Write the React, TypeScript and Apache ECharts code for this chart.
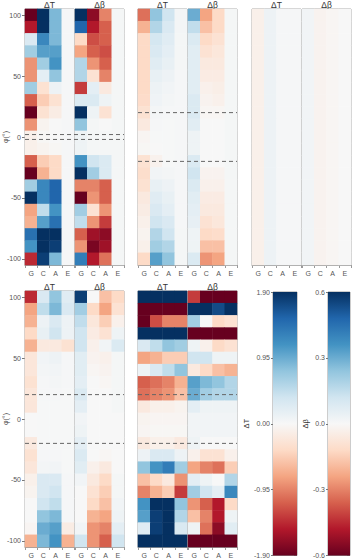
import React, { useEffect, useRef } from 'react';
import * as echarts from 'echarts';

// Sequence columns and backbone angle bins (bottom → top on the y axis)
const COLS = ['G', 'C', 'A', 'E'];
const PHI = ['-100', '-90', '-80', '-70', '-60', '-50', '-40', '-30', '-20', '-10', '0',
  '10', '20', '30', '40', '50', '60', '70', '80', '90', '100'];

// Each table: rows φ = 100 … -100 (top to bottom), columns G, C, A, E
const aDT = [
  [-1.9, 1.9, 0.86, 0.02], [-1.52, 1.9, 0.86, 0.02], [0.29, 1.24, 0.86, 0.02], [0.67, 1.05, 1.05, 0.02],
  [-0.86, 0.67, 1.14, 0.02], [-0.86, 0.19, 0.76, 0.02], [0.67, -0.29, 0.1, 0.02], [-1.14, -0.48, -0.29, 0.02],
  [-1.9, -0.29, -0.15, 0.02], [-0.86, -0.06, 0.0, 0.02], [-0.1, -0.02, 0.0, 0.02], [-0.1, -0.06, -0.02, 0.02],
  [-1.14, -0.48, -0.38, 0.02], [-1.9, -0.67, -0.38, 0.02], [0.67, 1.24, 1.52, 0.02], [1.9, 1.24, 1.52, 0.02],
  [-0.76, 0.48, 1.14, 0.02], [-0.67, 1.05, 1.43, 0.02], [1.43, 1.9, 1.9, 0.02], [1.14, 1.9, 1.8, 0.02],
  [-1.43, 1.8, 0.86, 0.02],
];
const aDB = [
  [0.6, -0.54, -0.3, 0.01], [0.48, -0.48, -0.36, 0.01], [-0.12, -0.39, -0.36, 0.01], [-0.24, -0.36, -0.39, 0.01],
  [0.18, -0.27, -0.36, 0.01], [0.18, -0.09, -0.3, 0.01], [-0.42, 0.06, -0.06, 0.01], [0.09, 0.09, 0.03, 0.01],
  [0.6, 0.03, -0.09, 0.01], [0.24, 0.01, 0.0, 0.01], [0.03, 0.01, 0.01, 0.01], [0.03, 0.01, 0.01, 0.01],
  [0.36, 0.12, 0.09, 0.01], [0.6, 0.21, 0.09, 0.01], [-0.3, -0.3, -0.36, 0.01], [-0.6, -0.27, -0.36, 0.01],
  [0.21, -0.09, -0.27, 0.01], [0.15, -0.27, -0.42, 0.01], [-0.36, -0.51, -0.54, 0.01], [-0.27, -0.57, -0.51, 0.01],
  [0.42, -0.48, -0.33, 0.01],
];
const bDT = [
  [-1.05, 0.76, 0.38, 0.04], [-0.67, 0.57, 0.29, 0.04], [-0.38, 0.34, 0.23, 0.03], [-0.38, 0.29, 0.19, 0.03],
  [-0.38, 0.23, 0.15, 0.03], [-0.38, 0.15, 0.1, 0.02], [-0.38, 0.1, 0.06, 0.02], [-0.36, 0.08, 0.04, 0.02],
  [-0.29, 0.04, 0.02, 0.02], [-0.19, 0.02, 0.01, 0.02], [-0.04, 0.01, 0.01, 0.02], [-0.02, 0.0, 0.01, 0.02],
  [-0.29, -0.08, 0.01, 0.02], [-0.34, 0.06, 0.04, 0.02], [-0.29, 0.15, 0.1, 0.02], [-0.19, 0.23, 0.15, 0.02],
  [-0.15, 0.29, 0.19, 0.02], [-0.1, 0.38, 0.29, 0.02], [-0.06, 0.57, 0.38, 0.03], [-0.1, 0.67, 0.57, 0.03],
  [-0.38, 1.05, 0.76, 0.03],
];
const bDB = [
  [0.3, -0.24, -0.12, 0.01], [0.15, -0.18, -0.12, 0.01], [0.09, -0.12, -0.09, 0.01], [0.07, -0.09, -0.07, 0.01],
  [0.07, -0.06, -0.06, 0.01], [0.07, -0.05, -0.05, 0.01], [0.07, -0.03, -0.04, 0.01], [0.09, -0.02, -0.03, 0.01],
  [0.09, -0.01, -0.01, 0.01], [0.07, 0.0, 0.0, 0.01], [0.03, 0.0, 0.0, 0.01], [0.03, 0.0, 0.0, 0.01],
  [0.09, 0.0, 0.0, 0.01], [0.12, -0.02, -0.02, 0.01], [0.09, -0.03, -0.03, 0.01], [0.07, -0.05, -0.05, 0.01],
  [0.06, -0.06, -0.06, 0.01], [0.05, -0.09, -0.07, 0.01], [0.03, -0.12, -0.11, 0.01], [0.03, -0.18, -0.18, 0.01],
  [0.09, -0.27, -0.24, 0.01],
];
const cDT = [
  [-0.1, 0.1, 0.02, 0.02], [-0.1, 0.1, 0.02, 0.02], [-0.1, 0.1, 0.02, 0.02], [-0.1, 0.1, 0.02, 0.02],
  [-0.1, 0.1, 0.02, 0.02], [-0.1, 0.1, 0.02, 0.02], [-0.1, 0.1, 0.02, 0.02], [-0.1, 0.1, 0.02, 0.02],
  [-0.1, 0.1, 0.02, 0.02], [-0.1, 0.1, 0.02, 0.02], [-0.1, 0.1, 0.02, 0.02], [-0.1, 0.1, 0.02, 0.02],
  [-0.1, 0.1, 0.02, 0.02], [-0.1, 0.1, 0.02, 0.02], [-0.1, 0.1, 0.02, 0.02], [-0.1, 0.1, 0.02, 0.02],
  [-0.1, 0.1, 0.02, 0.02], [-0.1, 0.1, 0.02, 0.02], [-0.1, 0.1, 0.02, 0.02], [-0.1, 0.1, 0.02, 0.02],
  [-0.1, 0.1, 0.02, 0.02],
];
const cDB = [
  [0.02, -0.02, -0.01, 0.0], [0.02, -0.02, -0.01, 0.0], [0.02, -0.02, -0.01, 0.0], [0.02, -0.02, -0.01, 0.0],
  [0.02, -0.02, -0.01, 0.0], [0.02, -0.02, -0.01, 0.0], [0.02, -0.02, -0.01, 0.0], [0.02, -0.02, -0.01, 0.0],
  [0.02, -0.02, -0.01, 0.0], [0.02, -0.02, -0.01, 0.0], [0.02, -0.02, -0.01, 0.0], [0.02, -0.02, -0.01, 0.0],
  [0.02, -0.02, -0.01, 0.0], [0.02, -0.02, -0.01, 0.0], [0.02, -0.02, -0.01, 0.0], [0.02, -0.02, -0.01, 0.0],
  [0.02, -0.02, -0.01, 0.0], [0.02, -0.02, -0.01, 0.0], [0.02, -0.02, -0.01, 0.0], [0.02, -0.02, -0.01, 0.0],
  [0.02, -0.02, -0.01, 0.0],
];
const b1DT = [
  [-1.43, 0.29, 0.76, 0.23], [-0.76, 0.48, 0.86, 0.29], [-0.67, 0.1, 0.29, 0.1], [-0.38, 0.15, 0.38, 0.1],
  [-0.67, -0.19, -0.19, -0.29], [-0.23, 0.06, 0.1, 0.02], [-0.23, 0.04, 0.06, 0.02], [-0.29, 0.02, 0.04, 0.02],
  [-0.23, 0.02, 0.02, 0.01], [-0.23, 0.01, 0.01, 0.01], [0.0, 0.01, 0.01, 0.01], [0.0, 0.01, 0.01, 0.01],
  [-0.19, 0.01, 0.01, 0.01], [-0.29, 0.02, 0.02, 0.01], [-0.23, 0.04, 0.06, 0.01], [-0.1, 0.29, 0.29, 0.02],
  [-0.06, 0.29, 0.38, 0.02], [0.0, 0.38, 0.48, 0.02], [0.0, 0.76, 0.86, 0.02], [-0.04, 0.95, 1.05, -0.15],
  [-0.67, 0.86, 1.14, -0.67],
];
const b1DB = [
  [0.57, 0.0, -0.18, -0.12], [0.21, -0.12, -0.24, -0.09], [0.15, -0.07, -0.15, -0.03], [0.12, -0.05, -0.09, 0.03],
  [0.12, -0.03, 0.02, 0.09], [0.07, -0.02, -0.03, 0.01], [0.07, -0.01, -0.02, 0.01], [0.06, 0.0, -0.01, 0.01],
  [0.09, 0.0, 0.0, 0.01], [0.06, 0.0, 0.0, 0.01], [0.02, 0.0, 0.0, 0.0], [0.03, 0.0, 0.0, 0.0],
  [0.06, 0.0, 0.0, 0.0], [0.09, 0.0, -0.01, 0.0], [0.07, -0.03, -0.06, 0.0], [0.02, -0.06, -0.12, 0.01],
  [0.0, -0.09, -0.15, 0.01], [0.0, -0.12, -0.18, 0.02], [0.0, -0.21, -0.24, 0.03], [0.02, -0.27, -0.3, 0.06],
  [0.12, -0.27, -0.36, 0.12],
];
const b2DT = [
  [1.9, 1.9, 1.9, 1.9], [-1.9, -1.9, -1.9, -1.9], [-1.9, -1.24, -0.95, -0.95], [1.9, 1.9, 1.9, 1.9],
  [0.29, 0.48, 0.76, 0.67], [-0.76, -0.67, -0.48, -0.48], [0.1, 0.29, 0.48, 0.76], [-1.14, -1.05, -0.95, -0.67],
  [-1.05, -0.95, -0.86, -0.57], [-0.19, -0.1, -0.1, -0.06], [-0.06, -0.04, -0.04, -0.04], [-0.04, -0.02, -0.02, -0.02],
  [-0.19, -0.1, -0.1, -0.19], [0.1, 0.29, 0.29, 0.1], [0.76, 1.14, 1.33, 0.67], [-0.57, -0.38, -0.19, -0.86],
  [-0.95, -0.67, -0.48, -1.33], [1.14, 1.9, 1.9, 0.76], [1.05, 1.8, 1.9, 0.57], [0.23, 1.8, 1.9, 0.29],
  [1.9, 1.9, 1.9, 1.9],
];
const b2DB = [
  [-0.42, -0.6, -0.6, -0.6], [0.6, 0.6, 0.54, 0.6], [0.21, 0.0, -0.12, -0.09], [-0.6, -0.6, -0.6, -0.6],
  [0.03, -0.03, -0.12, -0.09], [0.12, 0.12, 0.03, 0.03], [-0.06, -0.12, -0.18, -0.21], [0.33, 0.27, 0.24, 0.18],
  [0.3, 0.21, 0.18, 0.18], [0.06, 0.03, 0.03, 0.03], [0.02, 0.02, 0.02, 0.02], [0.02, 0.02, 0.02, 0.02],
  [0.03, 0.0, 0.0, 0.0], [-0.03, -0.09, -0.09, -0.03], [-0.24, -0.3, -0.33, -0.15], [0.06, 0.03, 0.0, 0.18],
  [0.21, 0.12, 0.06, 0.39], [-0.27, -0.36, -0.48, -0.12], [-0.18, -0.3, -0.48, 0.03], [0.03, -0.33, -0.54, 0.07],
  [-0.6, -0.6, -0.6, -0.6],
];

// Colour limits and dashed reference angles
const DT_LIM = 1.9;
const DB_LIM = 0.6;
const DASH_A = [2, -2];
const DASH_B = [20, -20];

// Diverging red → white → blue palette (low → high)
const RDBU = ['#67001f', '#b2182b', '#d6604d', '#f4a582', '#fddbc7', '#f7f7f7',
  '#d1e5f0', '#92c5de', '#4393c3', '#2166ac', '#053061'];

const FONT = 'Liberation Sans, Arial, sans-serif';
const AXIS_GREY = '#9a9a9a';

function toCells(rows: number[][]) {
  const out: number[][] = [];
  rows.forEach((r, i) => r.forEach((v, j) => out.push([j, PHI.length - 1 - i, v])));
  return out;
}

function buildOption() {
  const grid: any[] = [];
  const xAxis: any[] = [];
  const yAxis: any[] = [];
  const series: any[] = [];
  const graphic: any[] = [];
  const dtIdx: number[] = [];
  const dbIdx: number[] = [];

  const PW = 49;
  const PH = 256;

  const heatPanel = (x0: number, top: number, dT: number[][], dB: number[][], dashes: number[] | null,
    tag: string, tagColor: string, showY: boolean) => {
    [dT, dB].forEach((rows, k) => {
      const gi = grid.length;
      const xi = xAxis.length;
      const yi = yAxis.length;
      const left = x0 + k * 50;
      grid.push({ left, top, width: PW, height: PH, show: true, borderColor: AXIS_GREY, borderWidth: 1 });
      xAxis.push({
        type: 'category', gridIndex: gi, data: COLS,
        axisLine: { show: true, lineStyle: { color: AXIS_GREY } },
        axisTick: { show: true, length: 3, interval: 0, lineStyle: { color: AXIS_GREY } },
        axisLabel: { fontSize: 7, color: '#555', margin: 5, fontFamily: FONT, interval: 0 },
        splitLine: { show: false },
      });
      const lab = showY && k === 0;
      yAxis.push({
        type: 'category', gridIndex: gi, data: PHI,
        axisLine: { show: false },
        axisTick: { show: lab, length: 3, interval: 4, alignWithLabel: true, lineStyle: { color: '#777' } },
        axisLabel: { show: lab, interval: 4, fontSize: 7, color: '#555', margin: 4, fontFamily: FONT },
        splitLine: { show: false },
      });
      (k === 0 ? dtIdx : dbIdx).push(series.length);
      series.push({
        type: 'heatmap', xAxisIndex: xi, yAxisIndex: yi, data: toCells(rows),
        itemStyle: { borderWidth: 0 }, emphasis: { disabled: true }, silent: true,
      });
      graphic.push({
        type: 'text', x: left + PW / 2, y: top - 4.5,
        style: { text: k === 0 ? 'ΔT' : 'Δβ', fontSize: 8.5, fontFamily: FONT, fill: '#333', align: 'center', verticalAlign: 'middle' },
      });
    });
    if (dashes) {
      const gi = grid.length;
      const xi = xAxis.length;
      const yi = yAxis.length;
      grid.push({ left: x0, top, width: 99, height: PH, show: false });
      xAxis.push({ type: 'value', gridIndex: gi, min: 0, max: 1, show: false });
      yAxis.push({ type: 'value', gridIndex: gi, min: -105, max: 105, show: false });
      dashes.forEach((d) => {
        series.push({
          type: 'line', xAxisIndex: xi, yAxisIndex: yi, data: [[0, d], [1, d]],
          symbol: 'none', silent: true, z: 5,
          lineStyle: { color: '#666', width: 1, type: [4, 3] },
        });
      });
    }
    graphic.push({
      type: 'text', x: x0 + 97, y: top + 8,
      style: { text: tag, fontSize: 9, fontFamily: FONT, fill: tagColor, align: 'right', verticalAlign: 'middle' },
    });
    if (showY) {
      graphic.push({
        type: 'text', x: 5, y: top + PH / 2, rotation: Math.PI / 2,
        style: { text: 'φ(°)', fontSize: 7, fontFamily: FONT, fill: '#444', align: 'center', verticalAlign: 'middle' },
      });
    }
  };

  heatPanel(25, 9, aDT, aDB, DASH_A, 'a.', '#222', true);
  heatPanel(138, 9, bDT, bDB, DASH_B, 'b.', '#222', false);
  heatPanel(252, 9, cDT, cDB, null, 'c.', '#222', false);
  heatPanel(25, 291, b1DT, b1DB, DASH_B, 'b.1', '#222', true);
  heatPanel(138, 291, b2DT, b2DB, DASH_B, 'b.2', '#fff', false);

  const stops = RDBU.slice().reverse().map((c, i) => ({ offset: i / (RDBU.length - 1), color: c }));

  const colorBar = (left: number, width: number, lim: number, digits: number, name: string) => {
    const gi = grid.length;
    const xi = xAxis.length;
    const yi = yAxis.length;
    grid.push({ left, top: 292, width, height: 264, show: true, borderColor: AXIS_GREY, borderWidth: 1 });
    xAxis.push({ type: 'value', gridIndex: gi, min: 0, max: 1, show: false });
    yAxis.push({
      type: 'value', gridIndex: gi, min: -lim, max: lim, interval: lim / 2, position: 'left',
      name, nameLocation: 'middle', nameRotate: 90, nameGap: 19,
      nameTextStyle: { fontSize: 7.5, color: '#333', fontFamily: FONT },
      axisLine: { show: false },
      axisTick: { show: true, length: 2, lineStyle: { color: '#777' } },
      axisLabel: { fontSize: 7, color: '#555', margin: 3, fontFamily: FONT, formatter: (v: number) => v.toFixed(digits) },
      splitLine: { show: false },
    });
    yAxis.push({
      type: 'value', gridIndex: gi, min: -lim, max: lim, interval: lim / 2, position: 'right',
      axisLine: { show: false },
      axisTick: { show: true, inside: true, length: 3, lineStyle: { color: '#777' } },
      minorTick: { show: true, splitNumber: 5, length: 2, lineStyle: { color: '#777' } },
      axisLabel: { show: false },
      splitLine: { show: false },
    });
    series.push({
      type: 'custom', xAxisIndex: xi, yAxisIndex: yi, silent: true, z: 1,
      data: [[0, -lim]],
      renderItem: (_p: any, api: any) => {
        const p0 = api.coord([0, lim]);
        const p1 = api.coord([1, -lim]);
        return {
          type: 'rect',
          shape: { x: p0[0], y: p0[1], width: p1[0] - p0[0], height: p1[1] - p0[1] },
          style: { fill: new echarts.graphic.LinearGradient(0, 0, 0, 1, stops) },
        };
      },
    });
  };

  colorBar(273, 24, DT_LIM, 2, 'ΔT');
  colorBar(328, 22, DB_LIM, 1, 'Δβ');

  return {
    animation: false,
    backgroundColor: '#fff',
    grid, xAxis, yAxis, series, graphic,
    visualMap: [
      { type: 'continuous', show: false, min: -DT_LIM, max: DT_LIM, seriesIndex: dtIdx, inRange: { color: RDBU } },
      { type: 'continuous', show: false, min: -DB_LIM, max: DB_LIM, seriesIndex: dbIdx, inRange: { color: RDBU } },
    ],
  };
}

export default function App() {
  const ref = useRef<HTMLDivElement>(null);
  useEffect(() => {
    if (!ref.current) return;
    const chart = echarts.init(ref.current, null, { renderer: 'svg' });
    chart.setOption(buildOption() as any);
    return () => chart.dispose();
  }, []);
  return <div ref={ref} style={{ position: 'fixed', left: 0, top: 0, width: 353, height: 559 }} />;
}
